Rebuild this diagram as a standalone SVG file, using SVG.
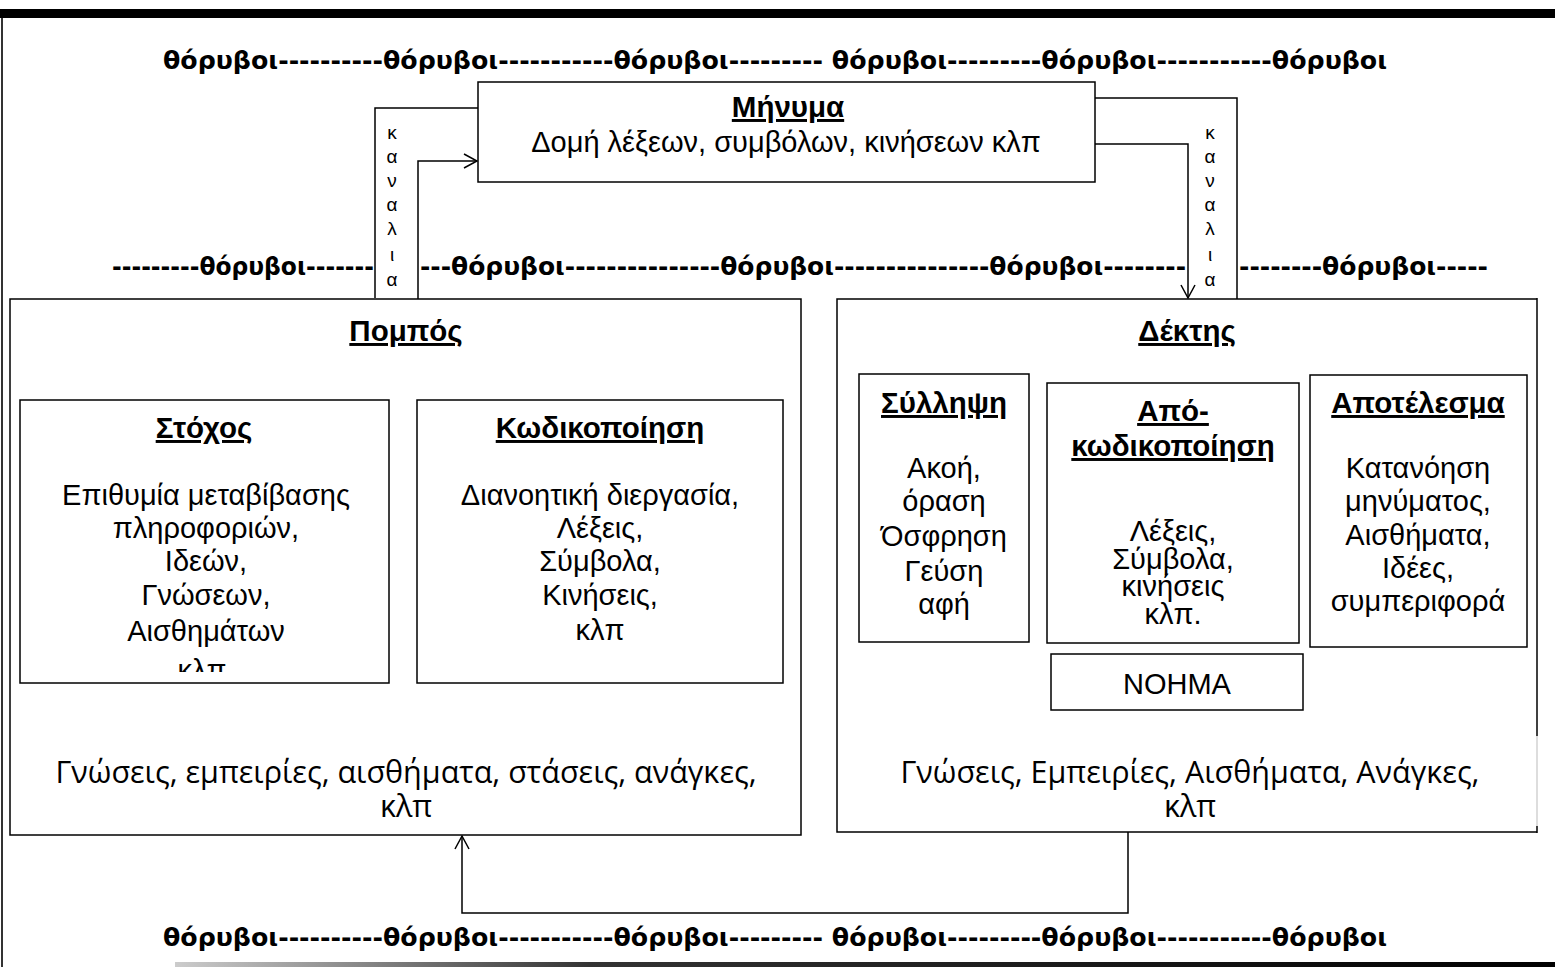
<svg xmlns="http://www.w3.org/2000/svg" width="1555" height="967" viewBox="0 0 1555 967">
<style>
.box{fill:#fff;stroke:#000;stroke-width:1.5}
.noise{font-family:"DejaVu Sans","Open Sans",sans-serif;font-weight:bold;font-size:24px;fill:#000}
.ttl{font-family:"Liberation Sans",Arial,sans-serif;font-weight:bold;font-size:29.5px;text-decoration:underline;text-anchor:middle;fill:#000}
.txt{font-family:"Liberation Sans",Arial,sans-serif;font-size:29px;text-anchor:middle;fill:#000}
.txt2{font-family:"Open Sans","Liberation Sans",sans-serif;font-size:30.5px;text-anchor:middle;fill:#000}
.can{font-family:"Liberation Sans",Arial,sans-serif;font-size:19px;text-anchor:middle;fill:#000}
.ln{fill:none;stroke:#000;stroke-width:1.5}
</style>
<defs>
<marker id="arr" markerWidth="16" markerHeight="16" refX="14" refY="8" orient="auto" markerUnits="userSpaceOnUse">
<path d="M1,1 L14,8 L1,15" fill="none" stroke="#000" stroke-width="1.5"/>
</marker>
<linearGradient id="bg" x1="0" x2="1" y1="0" y2="0">
<stop offset="0" stop-color="#ccc"/><stop offset="0.3" stop-color="#333"/><stop offset="1" stop-color="#000"/>
</linearGradient>
<clipPath id="clipS"><rect x="20" y="400" width="370" height="272"/></clipPath>
</defs>
<!-- frame -->
<rect x="0" y="9" width="1555" height="9" fill="#000"/>
<line x1="2" y1="18" x2="2" y2="967" stroke="#333" stroke-width="2"/>
<rect x="175" y="962" width="1380" height="5" fill="url(#bg)"/>

<!-- noise -->
<g id="noise">
<text class="noise" x="163" y="69" textLength="1224" lengthAdjust="spacingAndGlyphs">θόρυβοι----------θόρυβοι-----------θόρυβοι--------- θόρυβοι---------θόρυβοι-----------θόρυβοι</text>
<text class="noise" x="112" y="275" textLength="262" lengthAdjust="spacingAndGlyphs">---------θόρυβοι-------</text>
<text class="noise" x="420" y="275" textLength="766" lengthAdjust="spacingAndGlyphs">---θόρυβοι---------------θόρυβοι---------------θόρυβοι--------</text>
<text class="noise" x="1239" y="275" textLength="249" lengthAdjust="spacingAndGlyphs">--------θόρυβοι-----</text>
<text class="noise" x="163" y="946" textLength="1224" lengthAdjust="spacingAndGlyphs">θόρυβοι----------θόρυβοι-----------θόρυβοι--------- θόρυβοι---------θόρυβοι-----------θόρυβοι</text>
</g>

<!-- connectors -->
<g id="connectors">
<polyline class="ln" points="478,108 375,108 375,298"/>
<polyline class="ln" points="418,299 418,161 477,161" marker-end="url(#arr)"/>
<polyline class="ln" points="1095,98 1237,98 1237,299"/>
<polyline class="ln" points="1095,144 1188,144 1188,298" marker-end="url(#arr)"/>
<polyline class="ln" points="1128,832 1128,913 462,913 462,836" marker-end="url(#arr)"/>
</g>

<g id="canal-left">
<text class="can" x="392" y="139">κ</text>
<text class="can" x="392" y="163">α</text>
<text class="can" x="392" y="187">ν</text>
<text class="can" x="392" y="211">α</text>
<text class="can" x="392" y="235">λ</text>
<text class="can" x="392" y="261">ι</text>
<text class="can" x="392" y="286">α</text>
</g>
<g id="canal-right">
<text class="can" x="1210" y="139">κ</text>
<text class="can" x="1210" y="163">α</text>
<text class="can" x="1210" y="187">ν</text>
<text class="can" x="1210" y="211">α</text>
<text class="can" x="1210" y="235">λ</text>
<text class="can" x="1210" y="261">ι</text>
<text class="can" x="1210" y="286">α</text>
</g>

<g id="message">
<rect class="box" x="478" y="82" width="617" height="100"/>
<text class="ttl" x="788" y="117">Μήνυμα</text>
<text class="txt" x="786" y="152">Δομή λέξεων, συμβόλων, κινήσεων κλπ</text>
</g>

<g id="sender">
<rect class="box" x="10" y="299" width="791" height="536"/>
<text class="ttl" x="406" y="341">Πομπός</text>
<text class="txt2" x="406" y="783">Γνώσεις, εμπειρίες, αισθήματα, στάσεις, ανάγκες,</text>
<text class="txt2" x="406" y="817">κλπ</text>
</g>

<g id="goal">
<rect class="box" x="20" y="400" width="369" height="283"/>
<text class="ttl" x="204" y="438">Στόχος</text>
<g clip-path="url(#clipS)">
<text class="txt" x="206" y="505">Επιθυμία μεταβίβασης</text>
<text class="txt" x="206" y="538">πληροφοριών,</text>
<text class="txt" x="206" y="571">Ιδεών,</text>
<text class="txt" x="206" y="605">Γνώσεων,</text>
<text class="txt" x="206" y="641">Αισθημάτων</text>
<text class="txt" x="206" y="680">κλπ.</text>
</g>
</g>

<g id="encoding">
<rect class="box" x="417" y="400" width="366" height="283"/>
<text class="ttl" x="600" y="438">Κωδικοποίηση</text>
<text class="txt" x="600" y="505">Διανοητική διεργασία,</text>
<text class="txt" x="600" y="538">Λέξεις,</text>
<text class="txt" x="600" y="571">Σύμβολα,</text>
<text class="txt" x="600" y="605">Κινήσεις,</text>
<text class="txt" x="600" y="640">κλπ</text>
</g>

<g id="receiver">
<path class="box" d="M1537,299 H837 V832 H1537"/>
<line x1="1537" y1="298" x2="1537" y2="736" stroke="#000" stroke-width="1.5"/>
<line x1="1537" y1="736" x2="1537" y2="826" stroke="#bbb" stroke-width="1"/>
<line x1="1537" y1="826" x2="1537" y2="833" stroke="#000" stroke-width="1.5"/>
<text class="ttl" x="1187" y="341">Δέκτης</text>
<text class="txt2" x="1190" y="783">Γνώσεις, Εμπειρίες, Αισθήματα, Ανάγκες,</text>
<text class="txt2" x="1190" y="817">κλπ</text>
</g>

<g id="perception">
<rect class="box" x="859" y="374" width="170" height="268"/>
<text class="ttl" x="944" y="413">Σύλληψη</text>
<text class="txt" x="944" y="478">Ακοή,</text>
<text class="txt" x="944" y="511">όραση</text>
<text class="txt" x="944" y="546">Όσφρηση</text>
<text class="txt" x="944" y="581">Γεύση</text>
<text class="txt" x="944" y="614">αφή</text>
</g>

<g id="decoding">
<rect class="box" x="1047" y="383" width="252" height="260"/>
<text class="ttl" x="1173" y="421">Από-</text>
<text class="ttl" x="1173" y="456">κωδικοποίηση</text>
<text class="txt" x="1173" y="541">Λέξεις,</text>
<text class="txt" x="1173" y="569">Σύμβολα,</text>
<text class="txt" x="1173" y="596">κινήσεις</text>
<text class="txt" x="1173" y="624">κλπ.</text>
</g>

<g id="result">
<rect class="box" x="1310" y="375" width="217" height="272"/>
<text class="ttl" x="1418" y="413">Αποτέλεσμα</text>
<text class="txt" x="1418" y="478">Κατανόηση</text>
<text class="txt" x="1418" y="511">μηνύματος,</text>
<text class="txt" x="1418" y="545">Αισθήματα,</text>
<text class="txt" x="1418" y="578">Ιδέες,</text>
<text class="txt" x="1418" y="611">συμπεριφορά</text>
</g>

<g id="meaning">
<rect class="box" x="1051" y="654" width="252" height="56"/>
<text class="txt" x="1177" y="694">ΝΟΗΜΑ</text>
</g>
</svg>
